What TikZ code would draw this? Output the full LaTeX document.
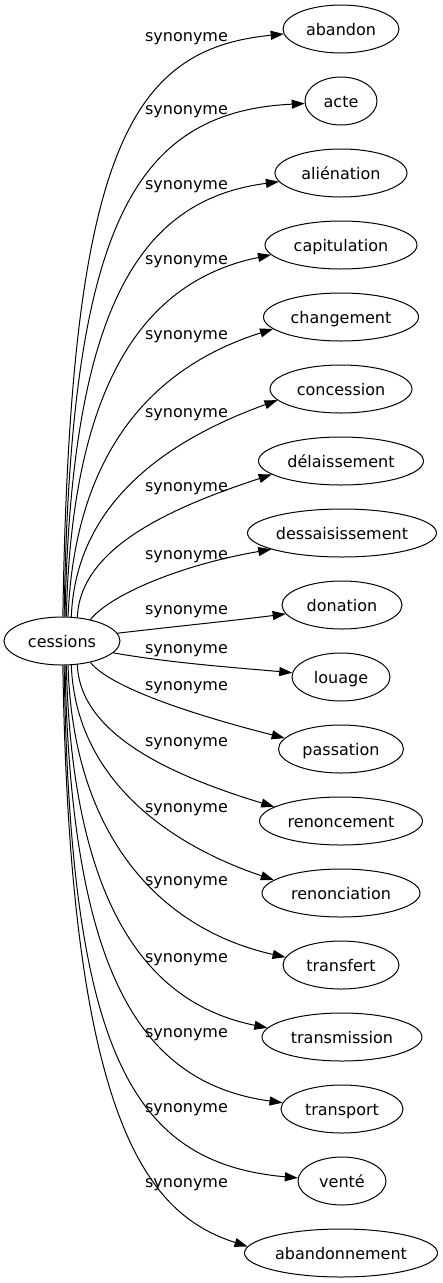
\documentclass[tikz,border=0pt]{standalone}
\usepackage{fontspec}
\setmainfont{DejaVu Sans}
\usetikzlibrary{arrows.meta,shapes.geometric}
\begin{document}
\begin{tikzpicture}[x=1pt,y=-1pt,
  every node/.style={font=\fontsize{16}{19}\selectfont},
  term/.style={draw, ellipse, line width=1pt, inner sep=0pt, minimum height=48pt, text height=12pt, text depth=0pt},
  rel/.style={draw, line width=1pt, -{Triangle[length=13pt,width=9pt]}},
  lab/.style={anchor=base, inner sep=0pt}]
\useasboundingbox (0,0) rectangle (443,1283);
% source
\node[term, minimum width=116pt] (c) at (62,641) {\makebox[0pt]{cessions}};
% targets
\node[term, minimum width=116pt] (n0) at (341,29) {\makebox[0pt]{abandon}};
\node[term, minimum width=72pt] (n1) at (341,101) {\makebox[0pt]{acte}};
\node[term, minimum width=132pt] (n2) at (341,173) {\makebox[0pt]{aliénation}};
\node[term, minimum width=152pt] (n3) at (341,245) {\makebox[0pt]{capitulation}};
\node[term, minimum width=155pt] (n4) at (341,317) {\makebox[0pt]{changement}};
\node[term, minimum width=142pt] (n5) at (341,389) {\makebox[0pt]{concession}};
\node[term, minimum width=165pt] (n6) at (341,461) {\makebox[0pt]{délaissement}};
\node[term, minimum width=189pt] (n7) at (342,533) {\makebox[0pt]{dessaisissement}};
\node[term, minimum width=120pt] (n8) at (342,605) {\makebox[0pt]{donation}};
\node[term, minimum width=98pt] (n9) at (341,677) {\makebox[0pt]{louage}};
\node[term, minimum width=125pt] (n10) at (341,749) {\makebox[0pt]{passation}};
\node[term, minimum width=163pt] (n11) at (341,821) {\makebox[0pt]{renoncement}};
\node[term, minimum width=158pt] (n12) at (341,893) {\makebox[0pt]{renonciation}};
\node[term, minimum width=116pt] (n13) at (341,965) {\makebox[0pt]{transfert}};
\node[term, minimum width=160pt] (n14) at (342,1037) {\makebox[0pt]{transmission}};
\node[term, minimum width=122pt] (n15) at (342,1109) {\makebox[0pt]{transport}};
\node[term, minimum width=88pt] (n16) at (342,1181) {\makebox[0pt]{venté}};
\node[term, minimum width=193pt] (n17) at (341,1253) {\makebox[0pt]{abandonnement}};
% labels
\node[lab] (l0) at (186.5,41.5) {synonyme};
\node[lab] (l1) at (186.5,114.5) {synonyme};
\node[lab] (l2) at (186.5,189.5) {synonyme};
\node[lab] (l3) at (186.5,264.5) {synonyme};
\node[lab] (l4) at (186.5,339.5) {synonyme};
\node[lab] (l5) at (186.5,417) {synonyme};
\node[lab] (l6) at (186.5,491) {synonyme};
\node[lab] (l7) at (186.5,559) {synonyme};
\node[lab] (l8) at (186.5,614.5) {synonyme};
\node[lab] (l9) at (186.5,653) {synonyme};
\node[lab] (l10) at (186.5,690.5) {synonyme};
\node[lab] (l11) at (186.5,746.5) {synonyme};
\node[lab] (l12) at (186.5,812.5) {synonyme};
\node[lab] (l13) at (186.5,885.5) {synonyme};
\node[lab] (l14) at (186.5,962) {synonyme};
\node[lab] (l15) at (186.5,1037.5) {synonyme};
\node[lab] (l16) at (186.5,1112.5) {synonyme};
\node[lab] (l17) at (186.5,1187) {synonyme};
% edges
\draw[rel] (c.88) .. controls (70,150) and (130,49) .. (n0.185);
\draw[rel] (c.85) .. controls (70,233) and (130,112) .. (n1.184);
\draw[rel] (c.83) .. controls (71,312) and (137,200) .. (n2.188);
\draw[rel] (c.80) .. controls (72,383) and (144,281) .. (n3.188);
\draw[rel] (c.76) .. controls (75,445) and (159,365) .. (n4.190);
\draw[rel] (c.69) .. controls (76,499) and (173,438) .. (n5.190);
\draw[rel] (c.57) .. controls (80,547) and (173,507) .. (n6.191);
\draw[rel] (c.37) .. controls (110,595) and (180,565) .. (n7.193);
\draw[rel] (c.8) .. controls (170,627) and (230,621) .. (n8.189);
\draw[rel] (c.-13) .. controls (170,663) and (240,668) .. (n9.175);
\draw[rel] (c.-37) .. controls (110,687) and (190,714) .. (n10.169);
\draw[rel] (c.-57) .. controls (80,735) and (173,776) .. (n11.168);
\draw[rel] (c.-69) .. controls (76,782) and (173,846) .. (n12.169);
\draw[rel] (c.-76) .. controls (73,839) and (163,930) .. (n13.172);
\draw[rel] (c.-80) .. controls (72,900) and (144,1003) .. (n14.173);
\draw[rel] (c.-83) .. controls (71,971) and (139,1083) .. (n15.174);
\draw[rel] (c.-85) .. controls (70,1050) and (130,1163) .. (n16.176);
\draw[rel] (c.-88) .. controls (70,1129) and (150,1215) .. (n17.176);
\end{tikzpicture}
\end{document}
